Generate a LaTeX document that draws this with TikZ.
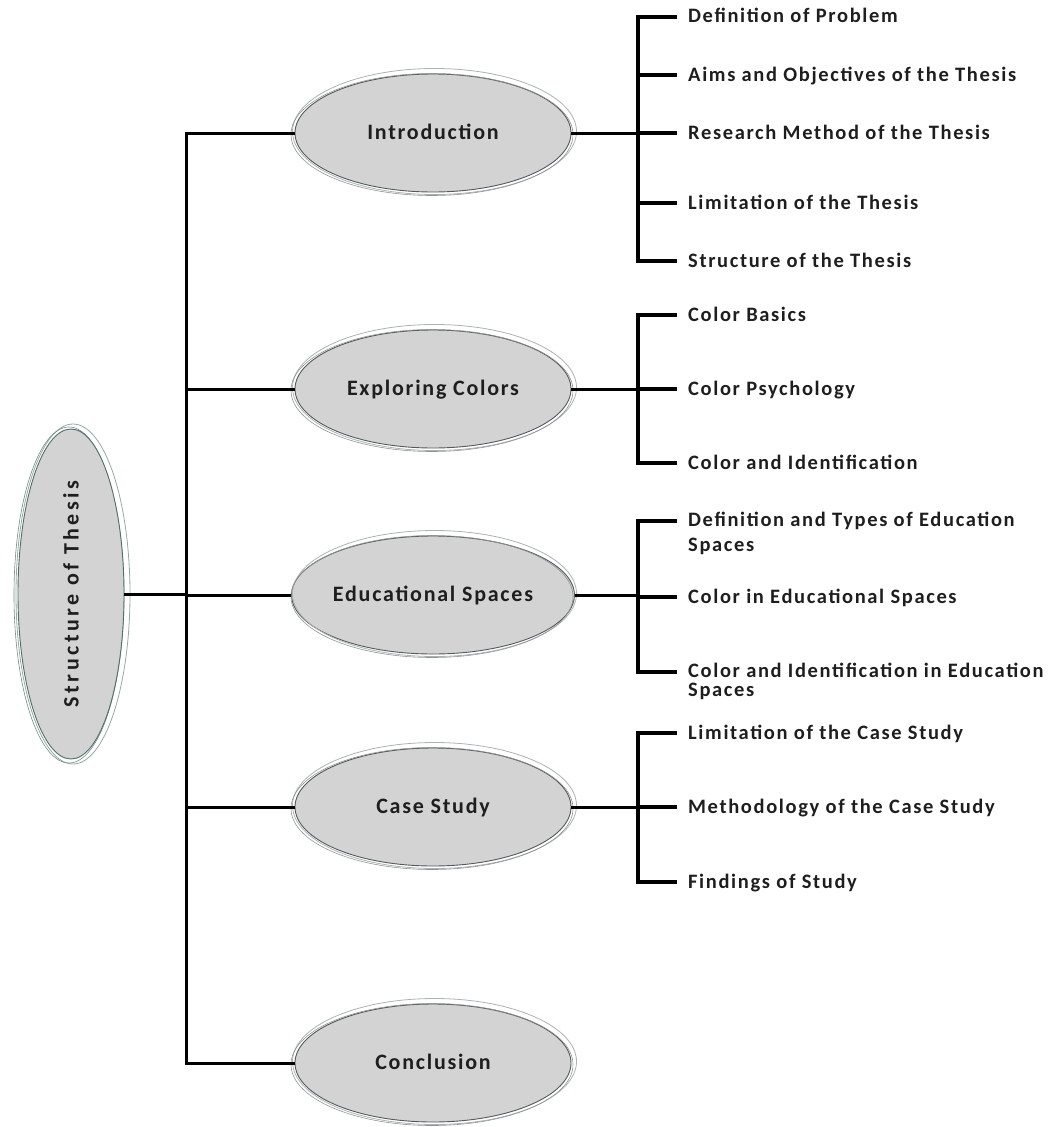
\documentclass[tikz,border=0pt]{standalone}
\usepackage{fontspec}
\setmainfont{Carlito}[LetterSpace=8]
\newfontfamily\rootfont{Carlito}[LetterSpace=16]
\usetikzlibrary{shapes.geometric,calc}
\definecolor{ellfill}{HTML}{D3D3D3}
\definecolor{ellline}{HTML}{55595A}
\definecolor{ellglow}{HTML}{A8B4B1}
\definecolor{rootline}{HTML}{4F7068}
\definecolor{txt}{HTML}{1E1E1E}
\newcommand\midrings[1]{%
  \draw[ellglow, line width=0.8pt] ($(#1.center)+(1.5,-1.5)$) ellipse [x radius=142pt, y radius=63pt];
  \draw[ellline!65, line width=0.6pt] ($(#1.center)+(-1,1.5)$) ellipse [x radius=141pt, y radius=61pt];
}
\begin{document}
\begin{tikzpicture}[x=1pt,y=-1pt,
  midell/.style={ellipse, fill=ellfill, draw=ellline, line width=0.9pt,
    minimum width=276pt, minimum height=118pt, inner sep=0pt,
    text height=16pt, text depth=4pt, text=txt,
    font=\fontsize{22}{26}\selectfont\bfseries},
  rootell/.style={ellipse, fill=ellfill, draw=rootline, line width=0.9pt,
    minimum width=106pt, minimum height=330pt, inner sep=0pt, text=txt},
  leaf/.style={anchor=west, inner xsep=11pt, inner ysep=0pt,
    text height=15pt, text depth=3pt, text=txt,
    font=\fontsize{20.5}{24}\selectfont\bfseries},
  leaftwo/.style={anchor=north west, inner xsep=11pt, inner ysep=0pt, align=left, text=txt,
    font=\fontsize{20.5}{24}\selectfont\bfseries},
  link/.style={line width=3pt},
  brk/.style={line width=4.5pt}]
\useasboundingbox (0,0) rectangle (1054,1127);

\coordinate (tx) at (186,0);
\coordinate (bx) at (638,0);

% root
\draw[rootline!60, line width=0.8pt] (73,594) ellipse [x radius=57pt, y radius=170pt];
\draw[rootline!80, line width=0.6pt] (69,595) ellipse [x radius=55pt, y radius=168pt];
\node[rootell] (root) at (71,594) {\rotatebox{90}{\fontsize{22}{26}\selectfont\rootfont\bfseries Structure of Thesis}};

% mid nodes
\node[midell] (intro) at (433,133) {Introduction};
\node[midell] (expl) at (433,389) {Exploring Colors};
\node[midell] (edu) at (433,595) {Educational Spaces};
\node[midell] (case) at (433,807) {Case Study};
\node[midell] (concl) at (433,1063) {Conclusion};
\midrings{intro}
\midrings{expl}
\midrings{edu}
\midrings{case}
\midrings{concl}

% trunk
\draw[link] (root.east) -- (root.east -| tx);
\draw[link] (intro.west) -- (intro.west -| tx) -- (concl.west -| tx) -- (concl.west);
\draw[link] (expl.west -| tx) -- (expl.west);
\draw[link] (edu.west -| tx) -- (edu.west);
\draw[link] (case.west -| tx) -- (case.west);

% leaves: Introduction
\node[leaf] (i1) at (677,17) {Definition of Problem};
\node[leaf] (i2) at (677,75) {Aims and Objectives of the Thesis};
\node[leaf] (i3) at (677,133) {Research Method of the Thesis};
\node[leaf] (i4) at (677,203) {Limitation of the Thesis};
\node[leaf] (i5) at (677,261) {Structure of the Thesis};
\draw[link] (intro.east) -- (intro.east -| bx);
\draw[brk] (i1.west) -- (i1.west -| bx) -- (i5.west -| bx) -- (i5.west);
\foreach \n in {i2,i3,i4} \draw[brk] (\n.west -| bx) -- (\n.west);

% leaves: Exploring Colors
\node[leaf] (c1) at (677,315) {Color Basics};
\node[leaf] (c2) at (677,389) {Color Psychology};
\node[leaf] (c3) at (677,463) {Color and Identification};
\draw[link] (expl.east) -- (expl.east -| bx);
\draw[brk] (c1.west) -- (c1.west -| bx) -- (c3.west -| bx) -- (c3.west);
\draw[brk] (c2.west -| bx) -- (c2.west);

% leaves: Educational Spaces
\node[leaftwo] (e1) at (677,512) {Definition and Types of Education\\[1pt]Spaces};
\node[leaf] (e2) at (677,597) {Color in Educational Spaces};
\node[leaftwo] (e3) at (677,663) {Color and Identification in Education\\[-5pt]Spaces};
\coordinate (e1t) at ($(e1.north west)+(0,9)$);
\coordinate (e3t) at ($(e3.north west)+(0,9)$);
\draw[link] (edu.east) -- (edu.east -| bx);
\draw[brk] (e1t) -- (e1t -| bx) -- (e3t -| bx) -- (e3t);
\draw[brk] (e2.west -| bx) -- (e2.west);

% leaves: Case Study
\node[leaf] (s1) at (677,733) {Limitation of the Case Study};
\node[leaf] (s2) at (677,807) {Methodology of the Case Study};
\node[leaf] (s3) at (677,882) {Findings of Study};
\draw[link] (case.east) -- (case.east -| bx);
\draw[brk] (s1.west) -- (s1.west -| bx) -- (s3.west -| bx) -- (s3.west);
\draw[brk] (s2.west -| bx) -- (s2.west);
\end{tikzpicture}
\end{document}
